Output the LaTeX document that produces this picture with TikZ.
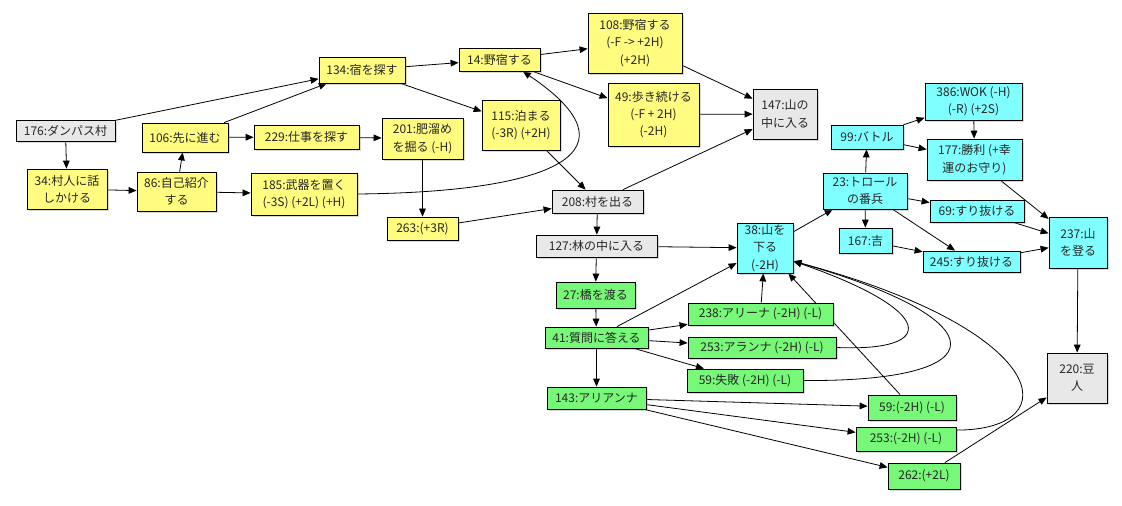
\documentclass[tikz,border=0pt]{standalone}
\usepackage{fontspec}
\setmainfont{Noto Sans CJK JP}
\usepackage{xcolor}
\usetikzlibrary{backgrounds, shadows, arrows.meta}

\definecolor{gamegray}{HTML}{E8E8E8}
\definecolor{gameyellow}{HTML}{FFFC80}
\definecolor{gamegreen}{HTML}{78F878}
\definecolor{gamecyan}{HTML}{7FFFFF}

\tikzset{
  sz/.style n args={2}{minimum width=0.75pt*#1, minimum height=0.75pt*#2},
  village/.style={fill=gamegray},
  town/.style={fill=gameyellow},
  bridge/.style={fill=gamegreen},
  mountain/.style={fill=gamecyan},
  arr/.style={draw, line width=0.6pt, -{Triangle[length=6pt, width=5pt]}}
}

\begin{document}
\begin{tikzpicture}[
          x=0.75pt, y=-0.75pt,
          every node/.style={draw, rectangle, inner sep=0pt, align=center,
            text=black!85, font=\fontsize{9pt}{13pt}\selectfont, line width=0.6pt,
            drop shadow={shadow xshift=1.2pt, shadow yshift=-1.2pt, opacity=0.3}}
        ]
          \useasboundingbox (0,0) rectangle (1122,506);

          % village
          \node[village, sz={99}{21}] (n176) at (65.5,130.5) {176:ダンパス村};
          \node[town, sz={80}{40}] (n34) at (67,189) {34:村人に話\\しかける};
          \node[town, sz={79}{39}] (n86) at (176.5,191.5) {86:自己紹介\\する};
          \node[town, sz={86}{29}] (n106) at (185,137.5) {106:先に進む};
          \node[town, sz={105}{24}] (n229) at (306.5,137) {229:仕事を探す};
          \node[town, sz={106}{42}] (n185) at (304,194) {185:武器を置く\\(-3S)\ (+2L)\ (+H)};
          \node[town, sz={86}{26}] (n134) at (362,70) {134:宿を探す};
          \node[town, sz={81}{41}] (n201) at (422.5,138.5) {201:肥溜め\\を掘る (-H)};
          \node[town, sz={71}{23}] (n263) at (422.5,228.5) {263:(+3R)};
          \node[town, sz={81}{23}] (n14) at (499.5,59.5) {14:野宿する};
          \node[town, sz={78}{50}] (n115) at (521,125) {115:泊まる\\(-3R)\ (+2H)};
          \node[town, sz={94}{60}] (n108) at (635,43) {108:野宿する\\(-F -> +2H)\\(+2H)};
          \node[town, sz={91}{63}] (n49) at (653.5,114.5) {49:歩き続ける\\(-F + 2H)\\(-2H)};
          \node[village, sz={64}{50}] (n147) at (785,114) {147:山の\\中に入る};
          \node[village, sz={91}{23}] (n208) at (597.5,201.5) {208:村を出る};
          \node[village, sz={121}{22}] (n127) at (596.5,246) {127:林の中に入る};

          % bridge
          \node[bridge, sz={79}{26}] (n27) at (595.5,295) {27:橋を渡る};
          \node[bridge, sz={103}{21}] (n41) at (596.5,337.5) {41:質問に答える};
          \node[bridge, sz={145}{22}] (n238) at (760.5,314) {238:アリーナ (-2H)\ (-L)};
          \node[bridge, sz={148}{21}] (n253a) at (762,347.5) {253:アランナ (-2H)\ (-L)};
          \node[bridge, sz={116}{23}] (n59a) at (745,380.5) {59:失敗 (-2H)\ (-L)};
          \node[bridge, sz={99}{22}] (n143) at (596.5,398) {143:アリアンナ};
          \node[bridge, sz={88}{25}] (n59b) at (912,407.5) {59:(-2H)\ (-L)};
          \node[bridge, sz={100}{24}] (n253b) at (906,439) {253:(-2H)\ (-L)};
          \node[bridge, sz={72}{26}] (n262) at (924,476) {262:(+2L)};
          \node[village, sz={60}{50}] (n220) at (1077,378) {220:豆\\人};

          % mountain
          \node[mountain, sz={56}{50}] (n38) at (765,248) {38:山を\\下る\\(-2H)};
          \node[mountain, sz={84}{36}] (n23) at (865,191) {23:トロール\\の番兵};
          \node[mountain, sz={72}{24}] (n99) at (867,137) {99:バトル};
          \node[mountain, sz={97}{37}] (n386) at (973.5,101.5) {386:WOK (-H)\\(-R)\ (+2S)};
          \node[mountain, sz={95}{41}] (n177) at (974.5,159.5) {177:勝利 (+幸\\運のお守り)};
          \node[mountain, sz={94}{22}] (n69) at (977,211) {69:すり抜ける};
          \node[mountain, sz={53}{25}] (n167) at (865.5,240.5) {167:吉};
          \node[mountain, sz={97}{21}] (n245) at (971.5,261.5) {245:すり抜ける};
          \node[mountain, sz={58}{51}] (n237) at (1078,242.5) {237:山\\を登る};

          \begin{scope}[on background layer]
            \draw[arr] (n176) -- (n34);
            \draw[arr] (n176) -- (n134);
            \draw[arr] (n34) -- (n86);
            \draw[arr] (n86) -- (n106);
            \draw[arr] (n86) -- (n185);
            \draw[arr] (n106) -- (n134);
            \draw[arr] (n106) -- (n229);
            \draw[arr] (n229) -- (n201);
            \draw[arr] (n201) -- (n263);
            \draw[arr] (n185.east) .. controls (560,192) and (640,150) .. (n14.-27);
            \draw[arr] (n263) -- (n208);
            \draw[arr] (n134) -- (n14);
            \draw[arr] (n134) -- (n115);
            \draw[arr] (n14) -- (n108);
            \draw[arr] (n14) -- (n49);
            \draw[arr] (n115) -- (n208);
            \draw[arr] (n108) -- (n147);
            \draw[arr] (n49) -- (n147);
            \draw[arr] (n208) -- (n147);
            \draw[arr] (n208) -- (n127);
            \draw[arr] (n127) -- (n38);
            \draw[arr] (n127) -- (n27);
            \draw[arr] (n27) -- (n41);
            \draw[arr] (n41) -- (n38);
            \draw[arr] (n41) -- (n238);
            \draw[arr] (n41) -- (n253a);
            \draw[arr] (n41) -- (n59a);
            \draw[arr] (n41) -- (n143);
            \draw[arr] (n238) -- (n38);
            \draw[arr] (n253a.east) .. controls (940,352) and (935,310) .. (n38.-25);
            \draw[arr] (n59a.east) .. controls (1000,382) and (1000,320) .. (n38.-25);
            \draw[arr] (n59b) -- (n38);
            \draw[arr] (n253b.10) .. controls (1070,430) and (1050,330) .. (n38.-25);
            \draw[arr] (n143) -- (n59b);
            \draw[arr] (n143) -- (n253b);
            \draw[arr] (n143) -- (n262);
            \draw[arr] (n262) -- (n220);
            \draw[arr] (n38) -- (n23);
            \draw[arr] (n23) -- (n99);
            \draw[arr] (n23) -- (n69);
            \draw[arr] (n23) -- (n167);
            \draw[arr] (n23) -- (n245);
            \draw[arr] (n99) -- (n386);
            \draw[arr] (n99) -- (n177);
            \draw[arr] (n386) -- (n177);
            \draw[arr] (n177) -- (n237);
            \draw[arr] (n69) -- (n237);
            \draw[arr] (n167) -- (n245);
            \draw[arr] (n245) -- (n237);
            \draw[arr] (n237) -- (n220);
          \end{scope}
        \end{tikzpicture}
\end{document}
